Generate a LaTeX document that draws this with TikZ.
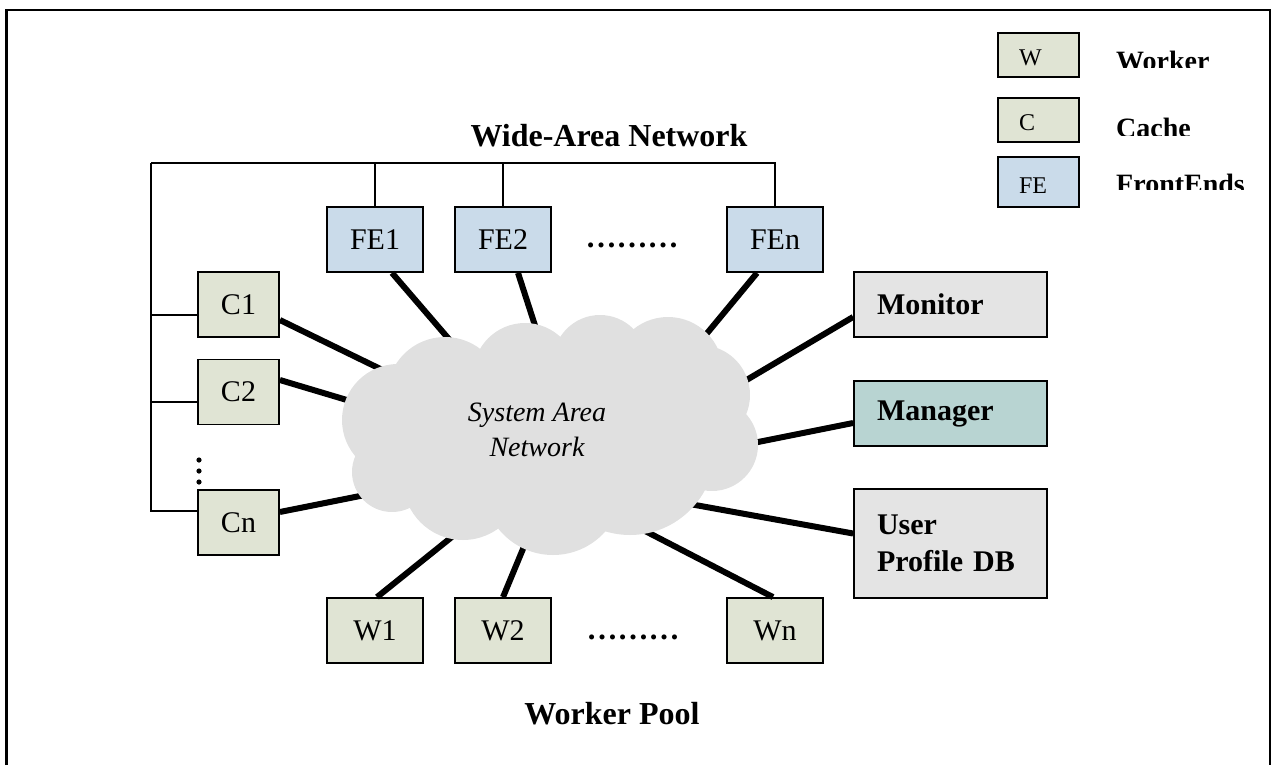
\documentclass[tikz,border=0pt]{standalone}
\usepackage{fontspec}
\setmainfont{Liberation Serif}
\definecolor{cwfill}{RGB}{224,228,212}
\definecolor{fefill}{RGB}{202,219,234}
\definecolor{grayfill}{RGB}{228,228,228}
\definecolor{mgrfill}{RGB}{184,212,210}
\definecolor{cloudfill}{RGB}{224,224,224}
\begin{document}
\begin{tikzpicture}[x=1pt,y=-1pt,
  box/.style={draw=black, line width=1.8pt, inner sep=0pt, font=\fontsize{30}{34}\selectfont},
  cbox/.style={box, fill=cwfill, minimum width=81pt, minimum height=65pt},
  wbox/.style={box, fill=cwfill, minimum width=96pt, minimum height=65pt},
  febox/.style={box, fill=fefill, minimum width=96pt, minimum height=65pt},
  sbox/.style={box, minimum width=193pt, minimum height=65pt, text width=147pt, align=left, font=\fontsize{30}{37}\selectfont\bfseries},
  lbox/.style={draw=black, line width=1.8pt, inner sep=0pt, minimum width=81pt, text width=39pt, align=left, text height=22pt, text depth=0pt, font=\fontsize{24}{28}\selectfont},
  ltext/.style={inner sep=0pt, anchor=base west, font=\fontsize{28}{32}\selectfont\bfseries},
  title/.style={inner sep=0pt, font=\fontsize{32}{36}\selectfont\bfseries},
  dotsrow/.style={inner sep=0pt, font=\fontsize{31}{34}\selectfont\bfseries},
  wan/.style={line width=1.5pt},
  link/.style={line width=6pt},
  frame/.style={line width=2.4pt}
]
\useasboundingbox (0,0) rectangle (1273,765);
\draw[frame] (6.5,765) -- (6.5,10) -- (1270,10) -- (1270,765);

% legend
\node[lbox, fill=cwfill, minimum height=44pt] (lw) at (1038.5,55) {W};
\node[lbox, fill=cwfill, minimum height=44pt] (lc) at (1038.5,120) {C};
\node[lbox, fill=fefill, minimum height=50pt] (lfe) at (1038.5,182) {FE};
\begin{scope}
  \clip (1100,40) rectangle (1268,67.5);
  \node[ltext] (lwt) at (1116,70.5) {Worker};
\end{scope}
\begin{scope}
  \clip (1100,105) rectangle (1268,135);
  \node[ltext] (lct) at (1116,137.5) {Cache};
\end{scope}
\begin{scope}
  \clip (1100,165) rectangle (1268,189);
  \node[ltext] (lfet) at (1116,193.5) {FrontEnds};
\end{scope}

% titles
\node[title] (wantitle) at (609,136) {Wide-Area Network};
\node[title] (pooltitle) at (612,714) {Worker Pool};

% front ends
\node[febox] (FE1) at (375,239.5) {FE1};
\node[febox] (FE2) at (503,239.5) {FE2};
\node[febox] (FEn) at (775,239.5) {FEn};
\node[dotsrow] (fedots) at (632,245) {………};

% caches
\node[cbox] (C1) at (238.5,304.5) {C1};
\node[cbox] (C2) at (238.5,392) {C2};
\node[cbox] (Cn) at (238.5,522.5) {Cn};
\fill (199,460) circle[radius=2.6] (199,471) circle[radius=2.6] (199,482) circle[radius=2.6];

% workers
\node[wbox] (W1) at (375,630.5) {W1};
\node[wbox] (W2) at (503,630.5) {W2};
\node[wbox] (Wn) at (775,630.5) {Wn};
\node[dotsrow] (wdots) at (633,637) {………};

% right side
\node[sbox, fill=grayfill] (mon) at (950.5,304.5) {Monitor};
\node[sbox, fill=mgrfill] (mgr) at (950.5,413.5) {Manager};
\node[sbox, fill=grayfill, minimum height=109pt] (db) at (950.5,543.5) {User\\Profile DB};

% wide-area network wiring
\coordinate (wanTL) at (151,163);
\draw[wan] (FEn.north) |- (wanTL);
\draw[wan] (FE2.north) |- (wanTL);
\draw[wan] (FE1.north) |- (wanTL);
\draw[wan] ([yshift=11.5pt]Cn.west) -| (wanTL);
\draw[wan] ([yshift=-10.5pt]C1.west) -| (wanTL);
\draw[wan] ([yshift=-10pt]C2.west) -| (wanTL);

% cloud attachment points
\coordinate (kC1) at (401,379);
\coordinate (kC2) at (377,409);
\coordinate (kCn) at (380,492);
\coordinate (kFE1) at (460,352);
\coordinate (kFE2) at (541,344);
\coordinate (kFEn) at (694,349);
\coordinate (kmon) at (733,388);
\coordinate (kmgr) at (738,446);
\coordinate (kdb) at (673,501);
\coordinate (kWn) at (620,518);
\coordinate (kW1) at (463,528);
\coordinate (kW2) at (530,532);

% system area network links
\draw[link] ([yshift=-15.5pt]C1.east) -- (kC1);
\draw[link] ([yshift=12pt]C2.east) -- (kC2);
\draw[link] ([yshift=10.5pt]Cn.east) -- (kCn);
\draw[link] ([xshift=17pt]FE1.south) -- (kFE1);
\draw[link] ([xshift=15pt]FE2.south) -- (kFE2);
\draw[link] ([xshift=-18pt]FEn.south) -- (kFEn);
\draw[link] ([yshift=-12.5pt]mon.west) -- (kmon);
\draw[link] ([yshift=-9.5pt]mgr.west) -- (kmgr);
\draw[link] ([yshift=10pt]db.west) -- (kdb);
\draw[link] ([xshift=-2pt]Wn.north) -- (kWn);
\draw[link] ([xshift=2pt]W1.north) -- (kW1);
\draw[link] (W2.north) -- (kW2);

% cloud
\fill[cloudfill]
  (550,430) ellipse[x radius=160, y radius=85]
  (398,420) circle[radius=56]
  (392,472) circle[radius=40]
  (445,395) circle[radius=58]
  (525,375) circle[radius=52]
  (600,362) circle[radius=47]
  (668,372) circle[radius=55]
  (700,395) circle[radius=50]
  (712,445) circle[radius=46]
  (630,450) circle[radius=85]
  (553,485) circle[radius=70]
  (463,480) circle[radius=60];
\node[inner sep=0pt, align=center, font=\fontsize{28}{35}\selectfont\itshape] (san) at (537,430) {System Area\\Network};
\end{tikzpicture}
\end{document}
